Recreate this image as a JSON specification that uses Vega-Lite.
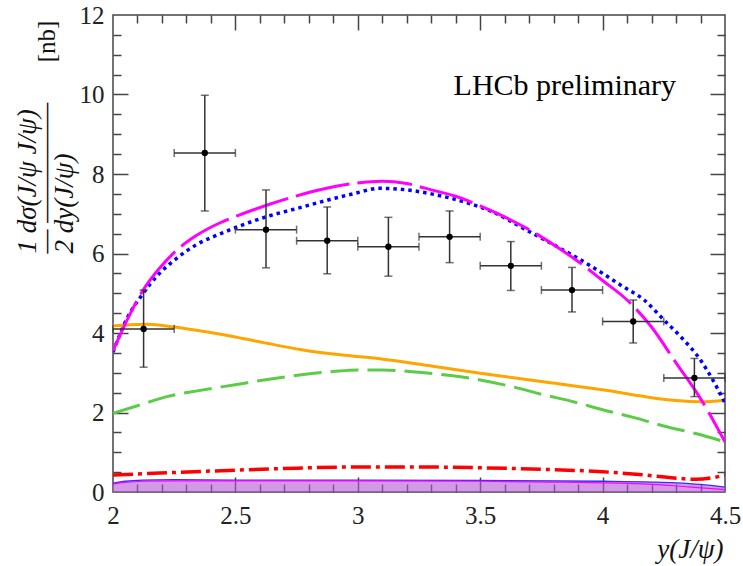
{
  "$schema": "https://vega.github.io/schema/vega-lite/v6.json",
  "width": 612,
  "height": 477,
  "autosize": {"type": "none"},
  "padding": {"left": 113, "top": 15, "right": 18, "bottom": 74},
  "background": "white",
  "config": {
    "view": {"stroke": "#444", "strokeWidth": 1.5},
    "font": "Liberation Serif",
    "axis": {"domain": false, "grid": false, "labelFont": "Liberation Serif", "labelFontSize": 25, "labelColor": "#222", "tickColor": "#444", "tickWidth": 1.5, "titleFont": "Liberation Serif", "titleFontWeight": "normal", "titleColor": "#111"}
  },
  "datasets": {
    "pts": [
      {"x": 2.125, "y": 4.1, "ylo": 3.14, "yhi": 5.08, "xlo": 2.0, "xhi": 2.25},
      {"x": 2.375, "y": 8.53, "ylo": 7.07, "yhi": 9.98, "xlo": 2.25, "xhi": 2.5},
      {"x": 2.625, "y": 6.6, "ylo": 5.64, "yhi": 7.6, "xlo": 2.5, "xhi": 2.75},
      {"x": 2.875, "y": 6.32, "ylo": 5.49, "yhi": 7.17, "xlo": 2.75, "xhi": 3.0},
      {"x": 3.125, "y": 6.17, "ylo": 5.43, "yhi": 6.91, "xlo": 3.0, "xhi": 3.25},
      {"x": 3.375, "y": 6.42, "ylo": 5.77, "yhi": 7.07, "xlo": 3.25, "xhi": 3.5},
      {"x": 3.625, "y": 5.69, "ylo": 5.07, "yhi": 6.3, "xlo": 3.5, "xhi": 3.75},
      {"x": 3.875, "y": 5.08, "ylo": 4.53, "yhi": 5.65, "xlo": 3.75, "xhi": 4.0},
      {"x": 4.125, "y": 4.29, "ylo": 3.75, "yhi": 4.83, "xlo": 4.0, "xhi": 4.25},
      {"x": 4.375, "y": 2.87, "ylo": 2.4, "yhi": 3.36, "xlo": 4.25, "xhi": 4.5}
    ],
    "curves": [
      {"s": "mag", "x": 2.0, "y": 3.55}, {"s": "mag", "x": 2.04, "y": 4.1}, {"s": "mag", "x": 2.09, "y": 4.72},
      {"s": "mag", "x": 2.12, "y": 5.05}, {"s": "mag", "x": 2.19, "y": 5.63}, {"s": "mag", "x": 2.26, "y": 6.08},
      {"s": "mag", "x": 2.34, "y": 6.45}, {"s": "mag", "x": 2.44, "y": 6.78}, {"s": "mag", "x": 2.53, "y": 7.0},
      {"s": "mag", "x": 2.64, "y": 7.24}, {"s": "mag", "x": 2.75, "y": 7.45}, {"s": "mag", "x": 2.85, "y": 7.61},
      {"s": "mag", "x": 2.98, "y": 7.76}, {"s": "mag", "x": 3.1, "y": 7.82}, {"s": "mag", "x": 3.2, "y": 7.76},
      {"s": "mag", "x": 3.3, "y": 7.6}, {"s": "mag", "x": 3.4, "y": 7.44}, {"s": "mag", "x": 3.5, "y": 7.2},
      {"s": "mag", "x": 3.6, "y": 6.92}, {"s": "mag", "x": 3.7, "y": 6.6}, {"s": "mag", "x": 3.8, "y": 6.22},
      {"s": "mag", "x": 3.9, "y": 5.8}, {"s": "mag", "x": 4.0, "y": 5.32}, {"s": "mag", "x": 4.1, "y": 4.83},
      {"s": "mag", "x": 4.2, "y": 4.15}, {"s": "mag", "x": 4.3, "y": 3.25}, {"s": "mag", "x": 4.4, "y": 2.35},
      {"s": "mag", "x": 4.5, "y": 1.26},
      {"s": "blue", "x": 2.0, "y": 3.52}, {"s": "blue", "x": 2.056, "y": 4.35}, {"s": "blue", "x": 2.12, "y": 4.97},
      {"s": "blue", "x": 2.19, "y": 5.5}, {"s": "blue", "x": 2.26, "y": 5.88}, {"s": "blue", "x": 2.34, "y": 6.22},
      {"s": "blue", "x": 2.44, "y": 6.5}, {"s": "blue", "x": 2.53, "y": 6.72}, {"s": "blue", "x": 2.64, "y": 6.95},
      {"s": "blue", "x": 2.75, "y": 7.13}, {"s": "blue", "x": 2.85, "y": 7.3}, {"s": "blue", "x": 2.98, "y": 7.5},
      {"s": "blue", "x": 3.09, "y": 7.64}, {"s": "blue", "x": 3.2, "y": 7.6},
      {"s": "blue", "x": 3.3, "y": 7.5}, {"s": "blue", "x": 3.45, "y": 7.27}, {"s": "blue", "x": 3.55, "y": 7.05},
      {"s": "blue", "x": 3.68, "y": 6.62}, {"s": "blue", "x": 3.8, "y": 6.22}, {"s": "blue", "x": 3.91, "y": 5.84},
      {"s": "blue", "x": 4.0, "y": 5.5}, {"s": "blue", "x": 4.08, "y": 5.18}, {"s": "blue", "x": 4.17, "y": 4.83},
      {"s": "blue", "x": 4.25, "y": 4.33}, {"s": "blue", "x": 4.32, "y": 3.9}, {"s": "blue", "x": 4.4, "y": 3.32},
      {"s": "blue", "x": 4.45, "y": 2.82}, {"s": "blue", "x": 4.5, "y": 2.24},
      {"s": "orange", "x": 2.0, "y": 4.18}, {"s": "orange", "x": 2.07, "y": 4.21}, {"s": "orange", "x": 2.14, "y": 4.22},
      {"s": "orange", "x": 2.25, "y": 4.15}, {"s": "orange", "x": 2.38, "y": 4.03}, {"s": "orange", "x": 2.5, "y": 3.9},
      {"s": "orange", "x": 2.63, "y": 3.74}, {"s": "orange", "x": 2.77, "y": 3.58}, {"s": "orange", "x": 2.93, "y": 3.45},
      {"s": "orange", "x": 3.09, "y": 3.35}, {"s": "orange", "x": 3.3, "y": 3.17}, {"s": "orange", "x": 3.5, "y": 2.99},
      {"s": "orange", "x": 3.75, "y": 2.78}, {"s": "orange", "x": 4.0, "y": 2.57}, {"s": "orange", "x": 4.15, "y": 2.42},
      {"s": "orange", "x": 4.3, "y": 2.3}, {"s": "orange", "x": 4.4, "y": 2.27}, {"s": "orange", "x": 4.5, "y": 2.31},
      {"s": "green", "x": 2.0, "y": 1.98}, {"s": "green", "x": 2.1, "y": 2.17}, {"s": "green", "x": 2.22, "y": 2.4},
      {"s": "green", "x": 2.35, "y": 2.55}, {"s": "green", "x": 2.5, "y": 2.7}, {"s": "green", "x": 2.63, "y": 2.83},
      {"s": "green", "x": 2.77, "y": 2.95}, {"s": "green", "x": 2.9, "y": 3.03}, {"s": "green", "x": 3.0, "y": 3.07},
      {"s": "green", "x": 3.1, "y": 3.07}, {"s": "green", "x": 3.25, "y": 3.01}, {"s": "green", "x": 3.38, "y": 2.93},
      {"s": "green", "x": 3.5, "y": 2.82}, {"s": "green", "x": 3.63, "y": 2.65}, {"s": "green", "x": 3.75, "y": 2.46},
      {"s": "green", "x": 3.88, "y": 2.27}, {"s": "green", "x": 4.0, "y": 2.07}, {"s": "green", "x": 4.13, "y": 1.87},
      {"s": "green", "x": 4.25, "y": 1.66}, {"s": "green", "x": 4.38, "y": 1.47}, {"s": "green", "x": 4.5, "y": 1.26},
      {"s": "red", "x": 2.0, "y": 0.43}, {"s": "red", "x": 2.25, "y": 0.49}, {"s": "red", "x": 2.5, "y": 0.55},
      {"s": "red", "x": 2.75, "y": 0.6}, {"s": "red", "x": 3.0, "y": 0.63}, {"s": "red", "x": 3.25, "y": 0.63},
      {"s": "red", "x": 3.5, "y": 0.61}, {"s": "red", "x": 3.75, "y": 0.57}, {"s": "red", "x": 4.0, "y": 0.51},
      {"s": "red", "x": 4.15, "y": 0.44}, {"s": "red", "x": 4.28, "y": 0.36}, {"s": "red", "x": 4.38, "y": 0.32},
      {"s": "red", "x": 4.45, "y": 0.36}, {"s": "red", "x": 4.5, "y": 0.43},
      {"s": "bandb", "x": 2.0, "y": 0.22}, {"s": "bandb", "x": 2.05, "y": 0.27}, {"s": "bandb", "x": 2.12, "y": 0.3},
      {"s": "bandb", "x": 2.25, "y": 0.31}, {"s": "bandb", "x": 2.5, "y": 0.3}, {"s": "bandb", "x": 3.0, "y": 0.3},
      {"s": "bandb", "x": 3.5, "y": 0.29}, {"s": "bandb", "x": 4.0, "y": 0.27}, {"s": "bandb", "x": 4.2, "y": 0.25},
      {"s": "bandb", "x": 4.3, "y": 0.23}, {"s": "bandb", "x": 4.4, "y": 0.19}, {"s": "bandb", "x": 4.5, "y": 0.12},
      {"s": "bandm", "x": 2.0, "y": 0.2}, {"s": "bandm", "x": 2.05, "y": 0.24}, {"s": "bandm", "x": 2.12, "y": 0.27},
      {"s": "bandm", "x": 2.25, "y": 0.28}, {"s": "bandm", "x": 2.5, "y": 0.28}, {"s": "bandm", "x": 3.0, "y": 0.28},
      {"s": "bandm", "x": 3.5, "y": 0.27}, {"s": "bandm", "x": 3.8, "y": 0.25}, {"s": "bandm", "x": 4.0, "y": 0.23},
      {"s": "bandm", "x": 4.2, "y": 0.19}, {"s": "bandm", "x": 4.35, "y": 0.13}, {"s": "bandm", "x": 4.5, "y": 0.06}
    ]
  },
  "layer": [
    {
      "data": {"name": "curves"},
      "transform": [{"filter": "datum.s === 'bandb'"}],
      "mark": {"type": "area", "color": "#b455d6", "opacity": 0.6, "interpolate": "monotone", "clip": true},
      "encoding": {
        "x": {"field": "x", "type": "quantitative", "scale": {"domain": [2, 4.5], "nice": false, "zero": false},
          "axis": {"orient": "bottom", "values": [2, 2.5, 3, 3.5, 4, 4.5], "format": "~g", "ticks": false, "labelPadding": 11, "labelFlush": false, "labelOverlap": false, "labelBound": false, "labelFontSize": 25,
            "title": "y(J/ψ)", "titleFontStyle": "italic", "titleFontSize": 27, "titleAnchor": "end", "titleAlign": "right", "titleBaseline": "alphabetic", "titleX": 610, "titleY": 65}},
        "y": {"field": "y", "type": "quantitative", "scale": {"domain": [0, 12], "nice": false},
          "axis": {"orient": "left", "values": [0, 2, 4, 6, 8, 10, 12], "format": "d", "ticks": false, "labelPadding": 9, "labelFlush": false, "labelOverlap": false, "labelBound": false, "labelFontSize": 25,
            "title": ["1 dσ(J/ψ J/ψ)", "— —————", "2     dy(J/ψ)"], "titleFontStyle": "italic", "titleFontSize": 27, "titleAngle": 270, "titleAlign": "left", "titleBaseline": "middle", "titleLineHeight": 18.5, "titleX": -86, "titleY": 238}}
      }
    },
    {
      "data": {"name": "curves"},
      "transform": [{"filter": "datum.s === 'bandb'"}],
      "mark": {"type": "line", "color": "#3030ff", "strokeWidth": 1.3, "interpolate": "monotone", "clip": true},
      "encoding": {
        "x": {"field": "x", "type": "quantitative", "scale": {"domain": [2, 4.5], "nice": false, "zero": false},
          "axis": {"orient": "bottom", "values": [2.5, 3, 3.5, 4], "labels": false, "tickSize": -15, "title": null}},
        "y": {"field": "y", "type": "quantitative", "scale": {"domain": [0, 12], "nice": false},
          "axis": {"orient": "left", "values": [2, 4, 6, 8, 10], "labels": false, "tickSize": -15,
            "title": "[nb]", "titleFontSize": 25, "titleFontStyle": "normal", "titleAngle": 270, "titleAlign": "center", "titleBaseline": "middle", "titleX": -67, "titleY": 26}}
      }
    },
    {
      "data": {"name": "curves"},
      "transform": [{"filter": "datum.s === 'bandm'"}],
      "mark": {"type": "line", "color": "#ff00ff", "strokeWidth": 1.2, "interpolate": "monotone", "clip": true},
      "encoding": {
        "x": {"field": "x", "type": "quantitative", "scale": {"domain": [2, 4.5], "nice": false, "zero": false},
          "axis": {"orient": "bottom", "values": [2.1, 2.2, 2.3, 2.4, 2.6, 2.7, 2.8, 2.9, 3.1, 3.2, 3.3, 3.4, 3.6, 3.7, 3.8, 3.9, 4.1, 4.2, 4.3, 4.4], "labels": false, "tickSize": -8, "title": null}},
        "y": {"field": "y", "type": "quantitative", "scale": {"domain": [0, 12], "nice": false},
          "axis": {"orient": "left", "values": [0.5, 1, 1.5, 2.5, 3, 3.5, 4.5, 5, 5.5, 6.5, 7, 7.5, 8.5, 9, 9.5, 10.5, 11, 11.5], "labels": false, "tickSize": -8, "title": null}}
      }
    },
    {
      "data": {"name": "curves"},
      "transform": [{"filter": "datum.s === 'red'"}],
      "mark": {"type": "line", "color": "#ff0000", "strokeWidth": 3.5, "strokeDash": [20, 5, 4, 5], "interpolate": "monotone", "clip": true},
      "encoding": {
        "x": {"field": "x", "type": "quantitative", "scale": {"domain": [2, 4.5], "nice": false, "zero": false},
          "axis": {"orient": "top", "values": [2.5, 3, 3.5, 4], "labels": false, "tickSize": -15, "title": null}},
        "y": {"field": "y", "type": "quantitative", "scale": {"domain": [0, 12], "nice": false},
          "axis": {"orient": "right", "values": [2, 4, 6, 8, 10], "labels": false, "tickSize": -15, "title": null}}
      }
    },
    {
      "data": {"name": "curves"},
      "transform": [{"filter": "datum.s === 'green'"}],
      "mark": {"type": "line", "color": "#5ccc48", "strokeWidth": 3, "strokeDash": [28, 9], "interpolate": "monotone", "clip": true},
      "encoding": {
        "x": {"field": "x", "type": "quantitative", "scale": {"domain": [2, 4.5], "nice": false, "zero": false},
          "axis": {"orient": "top", "values": [2.1, 2.2, 2.3, 2.4, 2.6, 2.7, 2.8, 2.9, 3.1, 3.2, 3.3, 3.4, 3.6, 3.7, 3.8, 3.9, 4.1, 4.2, 4.3, 4.4], "labels": false, "tickSize": -8, "title": null}},
        "y": {"field": "y", "type": "quantitative", "scale": {"domain": [0, 12], "nice": false},
          "axis": {"orient": "right", "values": [0.5, 1, 1.5, 2.5, 3, 3.5, 4.5, 5, 5.5, 6.5, 7, 7.5, 8.5, 9, 9.5, 10.5, 11, 11.5], "labels": false, "tickSize": -8, "title": null}}
      }
    },
    {
      "data": {"name": "curves"},
      "transform": [{"filter": "datum.s === 'orange'"}],
      "mark": {"type": "line", "color": "#ffa500", "strokeWidth": 3, "interpolate": "monotone", "clip": true},
      "encoding": {
        "x": {"field": "x", "type": "quantitative", "scale": {"domain": [2, 4.5], "nice": false, "zero": false}, "axis": null},
        "y": {"field": "y", "type": "quantitative", "scale": {"domain": [0, 12], "nice": false}, "axis": null}
      }
    },
    {
      "data": {"name": "curves"},
      "transform": [{"filter": "datum.s === 'blue'"}],
      "mark": {"type": "line", "color": "#0000ff", "strokeWidth": 3.5, "strokeDash": [3.5, 4], "interpolate": "monotone", "clip": true},
      "encoding": {
        "x": {"field": "x", "type": "quantitative", "scale": {"domain": [2, 4.5], "nice": false, "zero": false}, "axis": null},
        "y": {"field": "y", "type": "quantitative", "scale": {"domain": [0, 12], "nice": false}, "axis": null}
      }
    },
    {
      "data": {"name": "curves"},
      "transform": [{"filter": "datum.s === 'mag'"}],
      "mark": {"type": "line", "color": "#ff00ff", "strokeWidth": 3, "strokeDash": [55, 8], "interpolate": "monotone", "clip": true},
      "encoding": {
        "x": {"field": "x", "type": "quantitative", "scale": {"domain": [2, 4.5], "nice": false, "zero": false}, "axis": null},
        "y": {"field": "y", "type": "quantitative", "scale": {"domain": [0, 12], "nice": false}, "axis": null}
      }
    },
    {
      "data": {"name": "pts"},
      "mark": {"type": "rule", "color": "#333", "strokeWidth": 1.5},
      "encoding": {
        "x": {"field": "x", "type": "quantitative", "axis": null},
        "y": {"field": "ylo", "type": "quantitative", "axis": null},
        "y2": {"field": "yhi"}
      }
    },
    {
      "data": {"name": "pts"},
      "mark": {"type": "rule", "color": "#333", "strokeWidth": 1.5},
      "encoding": {
        "x": {"field": "xlo", "type": "quantitative", "axis": null},
        "x2": {"field": "xhi"},
        "y": {"field": "y", "type": "quantitative", "axis": null}
      }
    },
    {
      "data": {"name": "pts"},
      "mark": {"type": "tick", "color": "#333", "orient": "horizontal", "size": 8, "thickness": 1.5},
      "encoding": {
        "x": {"field": "x", "type": "quantitative", "axis": null},
        "y": {"field": "ylo", "type": "quantitative", "axis": null}
      }
    },
    {
      "data": {"name": "pts"},
      "mark": {"type": "tick", "color": "#333", "orient": "horizontal", "size": 8, "thickness": 1.5},
      "encoding": {
        "x": {"field": "x", "type": "quantitative", "axis": null},
        "y": {"field": "yhi", "type": "quantitative", "axis": null}
      }
    },
    {
      "data": {"name": "pts"},
      "mark": {"type": "tick", "color": "#333", "orient": "vertical", "size": 8, "thickness": 1.5},
      "encoding": {
        "x": {"field": "xlo", "type": "quantitative", "axis": null},
        "y": {"field": "y", "type": "quantitative", "axis": null}
      }
    },
    {
      "data": {"name": "pts"},
      "mark": {"type": "tick", "color": "#333", "orient": "vertical", "size": 8, "thickness": 1.5},
      "encoding": {
        "x": {"field": "xhi", "type": "quantitative", "axis": null},
        "y": {"field": "y", "type": "quantitative", "axis": null}
      }
    },
    {
      "data": {"name": "pts"},
      "mark": {"type": "point", "filled": true, "color": "#000", "size": 40, "opacity": 1},
      "encoding": {
        "x": {"field": "x", "type": "quantitative", "axis": null},
        "y": {"field": "y", "type": "quantitative", "axis": null}
      }
    },
    {
      "data": {"values": [{}]},
      "mark": {"type": "text", "font": "Liberation Serif", "fontSize": 30, "align": "right", "baseline": "alphabetic", "color": "#000"},
      "encoding": {
        "x": {"datum": 4.3, "type": "quantitative", "axis": null},
        "y": {"datum": 10, "type": "quantitative", "axis": null},
        "text": {"value": "LHCb preliminary"}
      }
    }
  ],
  "resolve": {"axis": {"x": "independent", "y": "independent"}}
}
